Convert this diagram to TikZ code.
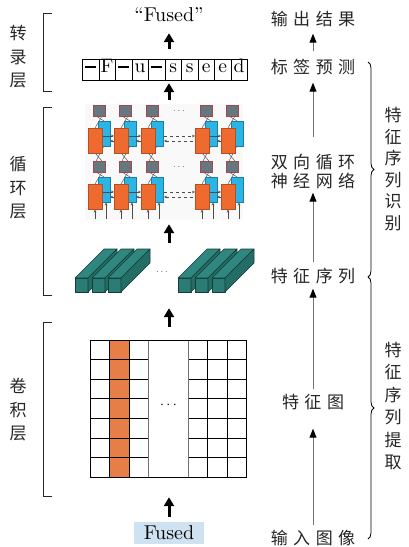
\documentclass[tikz,border=0pt]{standalone}
\usepackage{fontspec}
\newfontfamily\cjk{Noto Sans CJK SC}
\newfontfamily\lmten{lmroman10-regular}[Extension=.otf]
\usetikzlibrary{arrows.meta,decorations.pathreplacing}

\definecolor{rnnorange}{HTML}{EF6A2E}
\definecolor{rnnblue}{HTML}{2BB4E6}
\definecolor{rnngray}{HTML}{66777F}
\definecolor{barface}{HTML}{2A7C75}
\definecolor{bartopc}{HTML}{2F877F}
\definecolor{barsidec}{HTML}{246D66}
\definecolor{barline}{HTML}{133D39}
\definecolor{gridorange}{HTML}{E67E48}
\definecolor{inputblue}{HTML}{CFE2F2}

\newcommand\blankmark{\rule[0.2em]{0.6em}{2.6pt}}
\newcommand\zgap{\hspace{5.5pt}}
% one teal feature bar: front face, top face, right face
\newcommand\tealbar[1]{%
  \filldraw[barstyle, fill=barface] (#1,278) rectangle (#1+13,292);
  \filldraw[barstyle, fill=bartopc] (#1,278) -- (#1+29,249) -- (#1+42,249) -- (#1+13,278) -- cycle;
  \filldraw[barstyle, fill=barsidec] (#1+13,278) -- (#1+42,249) -- (#1+42,263) -- (#1+13,292) -- cycle;}

\begin{document}
\begin{tikzpicture}[x=1pt,y=-1pt,
  zh/.style={font=\cjk\fontsize{17}{19}\selectfont, text=black!85, inner sep=0pt, text height=14pt, text depth=3pt},
  zhcol/.style={font=\cjk\fontsize{17}{#1}\selectfont, text=black!85, inner sep=0pt, align=center},
  area/.style={inner sep=0pt},
  fatarrow/.style={line width=3pt, -{Triangle[width=10pt,length=9pt]}},
  flowarrow/.style={draw=black!55, line width=1pt, -{Triangle[width=7pt,length=9pt,color=black]}},
  bracketline/.style={line width=1pt, draw=black!85},
  seqcell/.style={draw=black, line width=0.7pt, minimum width=16.5pt, minimum height=21pt,
    inner sep=0pt, anchor=north west, font=\lmten\fontsize{19.5}{21}\selectfont,
    text height=0.68em, text depth=0.18em},
  gridline/.style={draw=black, line width=0.7pt},
  link/.style={draw=black!70, line width=0.45pt},
  barstyle/.style={draw=barline, line width=0.6pt, line join=round},
]
\useasboundingbox (0,0) rectangle (408,547);
\fill[white] (0,0) rectangle (408,547);

% ---------- left column: network blocks ----------
\node[font=\lmten\fontsize{20}{22}\selectfont, inner sep=0pt, minimum height=20pt] (out) at (169,15)
  {\textquotedblleft Fused\textquotedblright};

% transcription sequence
\node[area, minimum width=165pt, minimum height=21pt] (seq) at (164.5,69.5) {};
\foreach \ch [count=\i from 0] in {\blankmark,F,\blankmark,u,\blankmark,s,s,e,e,d}
  \node[seqcell] (cell\i) at (82+16.5*\i,59) {\ch};

% recurrent layers
\node[area, minimum width=158pt, minimum height=116pt] (rnn) at (164,162) {};
\fill[black!2.5] (85,104) rectangle (243,220);
\foreach \c in {99,125,152,206,232} {
  \draw[link] (\c+3,116) -- (\c-4,128);
  \draw[link] (\c-3,116) -- (\c+5,121);
  \draw[link] (\c-4,153) -- (\c+3,161);
  \draw[link] (\c+5,146) -- (\c-3,161);
  \draw[link] (\c+3,172) -- (\c-4,184);
  \draw[link] (\c-3,172) -- (\c+5,177);
  \draw[link, -{Stealth[length=3pt,width=2.5pt]}] (\c-4,219) -- (\c-4,209.5);
  \draw[link, -{Stealth[length=3pt,width=2.5pt]}] (\c+7,219) -- (\c+7,202.5);
}
\foreach \c in {99,125,152,206,232} {
  \filldraw[fill=rnnblue, draw=rnnblue!70!black, line width=0.4pt] (\c-1,121) rectangle (\c+11,146);
  \filldraw[fill=rnnblue, draw=rnnblue!70!black, line width=0.4pt] (\c-1,177) rectangle (\c+11,202);
}
\foreach \a/\b in {99/125,125/152,206/232}
  \foreach \oy in {128,184} {
    \draw[link, -{Stealth[length=3pt,width=2.5pt]}] (\a+3,\oy+8) -- (\b-11,\oy+8);
    \draw[link, {Stealth[length=3pt,width=2.5pt]}-] (\a+11,\oy+13) -- (\b-11,\oy+13);
  }
\foreach \oy in {128,184} {
  \draw[link, dashed, -{Stealth[length=3pt,width=2.5pt]}] (164,\oy+8) -- (195,\oy+8);
  \draw[link, dashed, {Stealth[length=3pt,width=2.5pt]}-] (164,\oy+13) -- (195,\oy+13);
}
\foreach \c in {99,125,152,206,232} {
  \filldraw[fill=rnnorange, draw=rnnorange!75!black, line width=0.4pt] (\c-11,128) rectangle (\c+3,153);
  \filldraw[fill=rnnorange, draw=rnnorange!75!black, line width=0.4pt] (\c-11,184) rectangle (\c+3,209);
  \filldraw[fill=rnngray, draw=rnngray!60!red, line width=0.5pt] (\c-6,105) rectangle (\c+6,116);
  \filldraw[fill=rnngray, draw=rnngray!60!red, line width=0.5pt] (\c-6,161) rectangle (\c+6,172);
}
\node[text=black!60, font=\fontsize{10}{12}\selectfont] (rdots1) at (179,111) {$\cdots$};
\node[text=black!60, font=\fontsize{10}{12}\selectfont] (rdots2) at (179,167) {$\cdots$};

% feature sequence bars
\node[area, minimum width=182pt, minimum height=45pt] (feat) at (165,270.5) {};
\foreach \x in {75,92,108,178,195,212} { \tealbar{\x} }
\node[text=black!60, font=\fontsize{10}{12}\selectfont] (fdots) at (162,272) {$\cdots$};

% convolutional feature map
\node[area, minimum width=157pt, minimum height=137pt] (cnn) at (168.4,408.5) {};
\fill[gridorange] (109.6,340) rectangle (129.2,477);
\foreach \k in {1,...,6} {
  \draw[gridline] (90,340+19.571*\k) -- (148.8,340+19.571*\k);
  \draw[gridline] (188,340+19.571*\k) -- (246.8,340+19.571*\k);
}
\foreach \x in {109.6,129.2,207.6,227.2}
  \draw[gridline] (\x,340) -- (\x,477);
\draw[gridline, draw=black!55] (148.8,340) -- (148.8,477);
\draw[gridline, draw=black!55] (188,340) -- (188,477);
\draw[gridline] (90,340) rectangle (246.8,477);
\node[font=\fontsize{14}{16}\selectfont] (gdots) at (168.4,405) {$\cdots$};

% input image
\node[fill=inputblue, minimum width=70pt, minimum height=22pt, inner sep=0pt,
  font=\lmten\fontsize{20}{22}\selectfont] (inp) at (169,533) {Fused};

% data flow between blocks
\draw[fatarrow, shorten <=10pt, shorten >=8pt] (seq.north -| out) -- (out.south);
\draw[fatarrow, shorten <=4pt, shorten >=3pt] (rnn.north -| out) -- (seq.south -| out);
\draw[fatarrow, shorten <=5pt, shorten >=4pt] (feat.north -| out) -- (rnn.south -| out);
\draw[fatarrow, shorten <=13pt, shorten >=15pt] (cnn.north -| out) -- (feat.south -| out);
\draw[fatarrow, shorten <=5pt, shorten >=20pt] (inp.north -| out) -- (cnn.south -| out);

% layer brackets and names
\draw[bracketline] (52,13) -- (43,13) -- (43,91) -- (52,91);
\draw[bracketline] (52,107) -- (43,107) -- (43,295) -- (52,295);
\draw[bracketline] (52,322) -- (43,322) -- (43,496) -- (52,496);
\node[zhcol=23.5] (lab1) at (18,57) {转\\录\\层};
\node[zhcol=23.5] (lab2) at (18,188) {循\\环\\层};
\node[zhcol=23.5] (lab3) at (18,410) {卷\\积\\层};

% ---------- right column: processing stages ----------
\node[zh] (r1) at (313,20) {输\zgap 出\zgap 结\zgap 果};
\node[zh] (r2) at (313,68) {标\zgap 签\zgap 预\zgap 测};
\node[zh] (r3a) at (313,163) {双\zgap 向\zgap 循\zgap 环};
\node[zh] (r3b) at (313,182) {神\zgap 经\zgap 网\zgap 络};
\node[zh] (r4) at (313,277) {特\zgap 征\zgap 序\zgap 列};
\node[zh] (r5) at (313,403) {特\zgap 征\zgap 图};
\node[zh] (r6) at (313,539) {输\zgap 入\zgap 图\zgap 像};

\draw[flowarrow, shorten <=5pt, shorten >=17pt] (r6.north) -- (r5.south);
\draw[flowarrow, shorten <=5pt, shorten >=3pt] (r5.north) -- (r4.south);
\draw[flowarrow, shorten <=6pt, shorten >=2pt] (r4.north) -- (r3b.south);
\draw[flowarrow, shorten <=17pt, shorten >=6pt] (r3a.north) -- (r2.south);
\draw[flowarrow, shorten <=8pt, shorten >=5pt] (r2.north) -- (r1.south);

\draw[line width=0.8pt, decorate, decoration={brace, amplitude=6pt}] (368,62) -- (368,277);
\draw[line width=0.8pt, decorate, decoration={brace, amplitude=6pt}] (368,277) -- (368,539);
\node[zhcol=21.6] (grp1) at (393,169) {特\\征\\序\\列\\识\\别};
\node[zhcol=22.4] (grp2) at (393,406) {特\\征\\序\\列\\提\\取};
\end{tikzpicture}
\end{document}
